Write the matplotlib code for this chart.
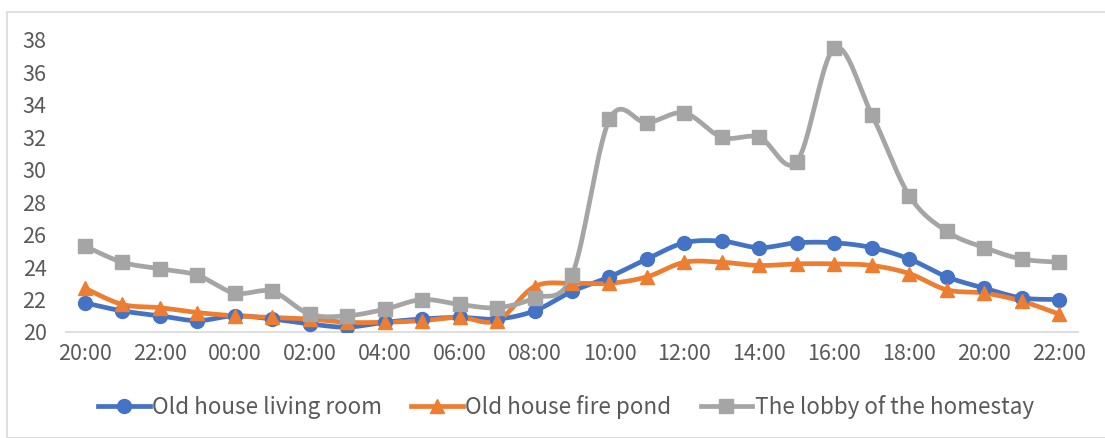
import numpy as np
import matplotlib.pyplot as plt
from matplotlib.lines import Line2D

hours = ["20:00", "21:00", "22:00", "23:00", "00:00", "01:00", "02:00", "03:00", "04:00",
         "05:00", "06:00", "07:00", "08:00", "09:00", "10:00", "11:00", "12:00", "13:00",
         "14:00", "15:00", "16:00", "17:00", "18:00", "19:00", "20:00", "21:00", "22:00"]

living_room = [21.8, 21.3, 21.0, 20.7, 21.0, 20.8, 20.5, 20.3, 20.6, 20.8, 20.9, 20.8, 21.3, 22.5,
               23.4, 24.5, 25.5, 25.6, 25.2, 25.5, 25.5, 25.2, 24.5, 23.4, 22.7, 22.1, 22.0]
fire_pond = [22.7, 21.7, 21.5, 21.2, 21.0, 20.9, 20.8, 20.6, 20.6, 20.7, 20.9, 20.7, 22.8, 23.0,
             23.0, 23.4, 24.3, 24.3, 24.1, 24.2, 24.2, 24.1, 23.6, 22.6, 22.4, 21.9, 21.1]
lobby = [25.3, 24.3, 23.9, 23.5, 22.4, 22.5, 21.1, 21.0, 21.4, 22.0, 21.7, 21.5, 22.1, 23.5,
         33.1, 32.9, 33.5, 32.0, 32.0, 30.5, 37.5, 33.4, 28.4, 26.2, 25.2, 24.5, 24.3]

names = ["Old house living room", "Old house fire pond", "The lobby of the homestay"]
colors = ["#4472C4", "#ED7D31", "#A5A5A5"]
markers = ["o", "^", "s"]


def smooth(x, y, n=20):
    # catmull-rom style bezier smoothing like excel's "smoothed line"
    x = np.asarray(x, float)
    y = np.asarray(y, float)
    px = np.concatenate([[x[0]], x, [x[-1]]])
    py = np.concatenate([[y[0]], y, [y[-1]]])
    xs, ys = [], []
    t = np.linspace(0, 1, n)
    for i in range(1, len(px) - 2):
        p0 = np.array([px[i], py[i]])
        p3 = np.array([px[i + 1], py[i + 1]])
        c1 = p0 + (np.array([px[i + 1], py[i + 1]]) - np.array([px[i - 1], py[i - 1]])) / 6
        c2 = p3 - (np.array([px[i + 2], py[i + 2]]) - np.array([px[i], py[i]])) / 6
        b = ((1 - t) ** 3)[:, None] * p0 + (3 * (1 - t) ** 2 * t)[:, None] * c1 \
            + (3 * (1 - t) * t ** 2)[:, None] * c2 + (t ** 3)[:, None] * p3
        xs.extend(b[:, 0])
        ys.extend(b[:, 1])
    return xs, ys


plt.rcParams['font.family'] = ['Noto Sans CJK SC', 'DejaVu Sans']
plt.rcParams['font.weight'] = 'light'

fig = plt.figure(figsize=(11.05, 4.38), dpi=100)
fig.patches.append(plt.Rectangle((7 / 1105, 0), 1, 1 - 12 / 438, transform=fig.transFigure,
                                 fill=False, edgecolor='#D9D9D9', linewidth=1.2))
ax = fig.add_axes([66 / 1105, 1 - 332 / 438, (1078 - 66) / 1105, (332 - 40) / 438])

x = np.arange(len(hours))
for vals, c, m in zip([living_room, fire_pond, lobby], colors, markers):
    sx, sy = smooth(x, vals)
    ax.plot(sx, sy, color=c, linewidth=3.4, solid_capstyle='round', zorder=2)
    ax.plot(x, vals, linestyle='none', marker=m, color=c, markersize=10, zorder=3)

ax.set_xlim(-0.5, len(hours) - 0.5)
ax.set_ylim(20, 38)
ax.set_yticks(range(20, 39, 2))
ax.set_xticks(x[::2])
ax.set_xticklabels(hours[::2])
for s in ['top', 'right', 'left']:
    ax.spines[s].set_visible(False)
ax.spines['bottom'].set_color('#D9D9D9')
ax.spines['bottom'].set_linewidth(1.2)
ax.tick_params(length=0, labelsize=15.5, colors='#595959')
ax.tick_params(axis='x', pad=8)
ax.tick_params(axis='y', pad=14)

handles = [Line2D([], [], color=c, marker=m, linewidth=3.4, markersize=10)
           for c, m in zip(colors, markers)]
fig.legend(handles, names, loc='center', bbox_to_anchor=(0.512, 1 - 407 / 438), ncol=3,
           frameon=False, fontsize=16.2, labelcolor='#595959', handlelength=2.3,
           handletextpad=0.1, columnspacing=1.3)

fig.savefig('out.png', dpi=100)
